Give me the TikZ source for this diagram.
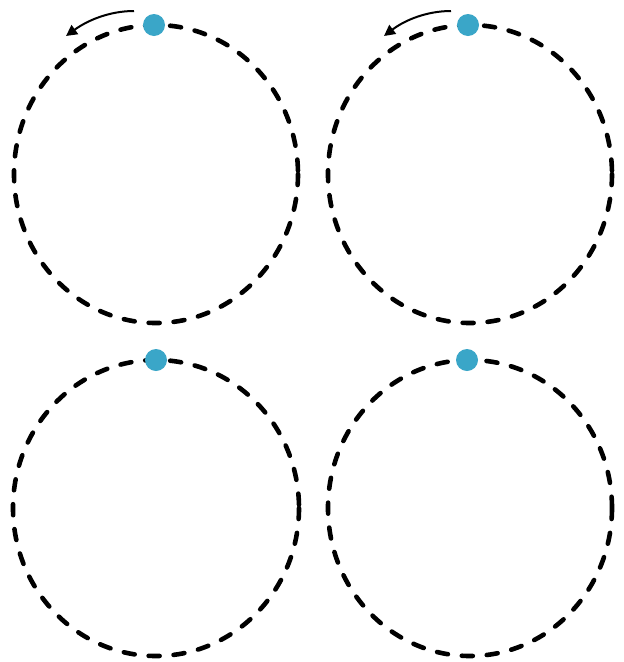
\documentclass[tikz,border=0pt]{standalone}
\usetikzlibrary{arrows.meta}
\definecolor{dotblue}{HTML}{3AA6C8}
\begin{document}
\begin{tikzpicture}[x=1pt,y=-1pt,
  orbit/.style={draw=black,line width=4.6pt,dash pattern=on 11pt off 14pt,line cap=round},
  ball/.style={circle,fill=dotblue,minimum size=22pt,inner sep=0pt},
  spin/.style={draw=black,line width=2pt,-{Triangle[length=11pt,width=11pt]}}]
\useasboundingbox (0,0) rectangle (624,662);
\fill[white] (0,0) rectangle (624,662);
\draw[orbit] (156,174) ellipse [x radius=142, y radius=149];
\draw[orbit] (470,174) ellipse [x radius=142, y radius=149];
\draw[orbit] (156,508) ellipse [x radius=143, y radius=148];
\draw[orbit] (470,508) ellipse [x radius=142, y radius=148];
\node[ball] (b1) at (154,25) {};
\node[ball] (b2) at (468,25) {};
\node[ball] (b3) at (156,360) {};
\node[ball] (b4) at (467,360) {};
\coordinate (s1) at (134,11);
\coordinate (e1) at (66,36);
\coordinate (s2) at (451,11);
\coordinate (e2) at (384,36);
\draw[spin] (s1) .. controls (110,11) and (88,20) .. (e1);
\draw[spin] (s2) .. controls (427,11) and (405,20) .. (e2);
\end{tikzpicture}
\end{document}
